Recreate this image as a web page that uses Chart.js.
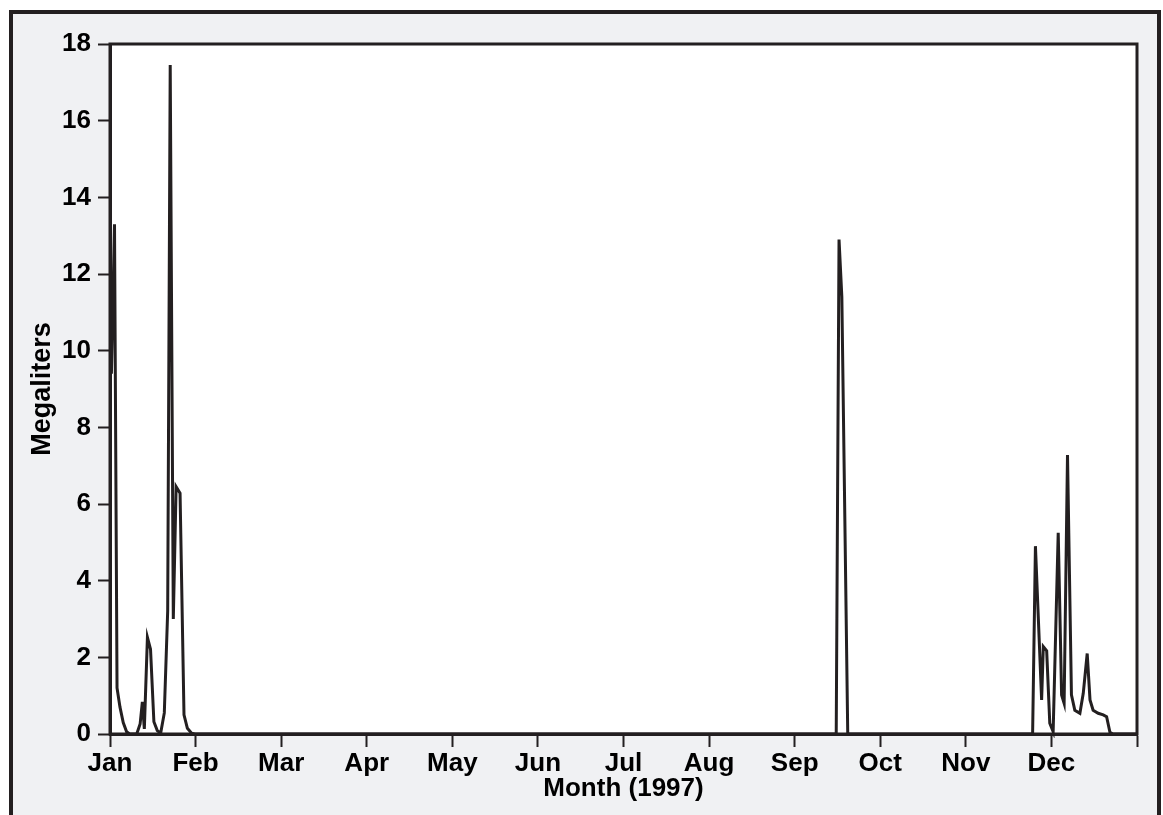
<!DOCTYPE html>
<html>
<head>
<meta charset="utf-8">
<script src="https://cdn.jsdelivr.net/npm/chart.js@4/dist/chart.umd.min.js"></script>
<style>
  html, body { margin: 0; padding: 0; background: #ffffff; }
  #wrap { width: 1163px; height: 815px; }
</style>
</head>
<body>
<div id="wrap"><canvas id="myChart" width="1163" height="815"></canvas></div>
<script>
// month tick labels (ticks are evenly spaced across the year)
const monthLabels = ['Jan', 'Feb', 'Mar', 'Apr', 'May', 'Jun', 'Jul', 'Aug', 'Sep', 'Oct', 'Nov', 'Dec'];

// day of year and flow in megaliters
const dayPos = [
  0.5, 1.6, 2.5, 3.55, 4.7, 5.9, 7.0, 9.5, 10.7, 11.5, 12.2, 13.3, 14.4, 15.6, 16.8, 18.0,
  19.3, 20.5, 21.4, 22.5, 23.5, 24.9, 26.3, 27.5, 29.0, 30.2,
  258.1, 259.1, 260.1, 262.2,
  327.9, 328.9, 331.1, 331.7, 332.9, 334.0, 335.2, 337.0, 338.2, 339.1, 340.3, 341.7,
  342.9, 344.7, 345.9, 347.3, 348.3, 349.4, 351.2, 353.0, 354.2, 355.4, 356.5, 365
];
const megaliters = [
  9.4, 13.3, 1.2, 0.7, 0.3, 0.06, 0, 0, 0.26, 0.84, 0.13, 2.52, 2.21, 0.32, 0.09, 0.02,
  0.55, 3.2, 17.45, 3.0, 6.45, 6.28, 0.5, 0.15, 0.02, 0,
  0, 12.9, 11.4, 0,
  0, 4.9, 0.89, 2.28, 2.17, 0.28, 0.06, 5.25, 1.02, 0.8, 7.28, 1.02,
  0.62, 0.54, 1.06, 2.1, 0.89, 0.62, 0.54, 0.5, 0.45, 0.04, 0, 0
];

const DAYS = 365;
const INK = '#231f20';
const FONT = "'Liberation Sans', Arial, Helvetica, sans-serif";

const frame = {
  id: 'frame',
  beforeDraw(chart) {
    const c = chart.ctx;
    const a = chart.chartArea;
    c.save();
    c.fillStyle = '#ffffff';
    c.fillRect(0, 0, chart.width, chart.height);
    c.fillStyle = '#f0f1f3';
    c.fillRect(11, 12, 1148, 900);
    c.strokeStyle = INK;
    c.lineWidth = 4;
    c.strokeRect(11, 12, 1148, 900);
    c.fillStyle = '#ffffff';
    c.fillRect(a.left, a.top, a.right - a.left, a.bottom - a.top);
    c.restore();
  },
  afterDraw(chart) {
    const c = chart.ctx;
    const a = chart.chartArea;
    c.save();
    c.strokeStyle = INK;
    c.lineWidth = 3;
    c.strokeRect(a.left, a.top, a.right - a.left, a.bottom - a.top);
    c.restore();
  }
};

const data = {
  datasets: [{
    label: 'Megaliters',
    data: dayPos.map((d, i) => ({x: d, y: megaliters[i]})),
    borderColor: INK,
    borderWidth: 3,
    pointRadius: 0,
    tension: 0,
    clip: 4
  }]
};

const config = {
  type: 'line',
  data: data,
  plugins: [frame],
  options: {
    responsive: false,
    animation: false,
    events: [],
    layout: { padding: { top: 44, right: 26, bottom: 0, left: 0 } },
    plugins: { legend: { display: false }, tooltip: { enabled: false } },
    scales: {
      x: {
        type: 'linear',
        min: 0,
        max: DAYS,
        afterFit(scale) { scale.height = 81; },
        afterBuildTicks(scale) {
          scale.ticks = [];
          for (let k = 0; k <= 12; k++) scale.ticks.push({value: k * DAYS / 12});
        },
        grid: { drawOnChartArea: false, tickLength: 13, tickWidth: 2, tickColor: INK },
        border: { color: INK, width: 3 },
        ticks: {
          autoSkip: false,
          maxRotation: 0,
          padding: 1,
          color: '#000',
          font: { family: FONT, size: 26, weight: 'bold' },
          callback: (v, i) => monthLabels[i] || ''
        },
        title: {
          display: true,
          text: 'Month (1997)',
          color: '#000',
          font: { family: FONT, size: 26, weight: 'bold' },
          padding: { top: 0, bottom: 11 }
        }
      },
      y: {
        min: 0,
        max: 18,
        afterFit(scale) { scale.width = 110; },
        grid: { drawOnChartArea: false, tickLength: 12, tickWidth: 2, tickColor: INK },
        border: { color: INK, width: 3 },
        ticks: {
          stepSize: 2,
          padding: 7,
          color: '#000',
          font: { family: FONT, size: 26, weight: 'bold' }
        },
        title: {
          display: true,
          text: 'Megaliters',
          color: '#000',
          font: { family: FONT, size: 27, weight: 'bold' },
          padding: { top: 26, bottom: 0 }
        }
      }
    }
  }
};

const ctx = document.getElementById('myChart').getContext('2d');
const chart = new Chart(ctx, config);
</script>
</body>
</html>
